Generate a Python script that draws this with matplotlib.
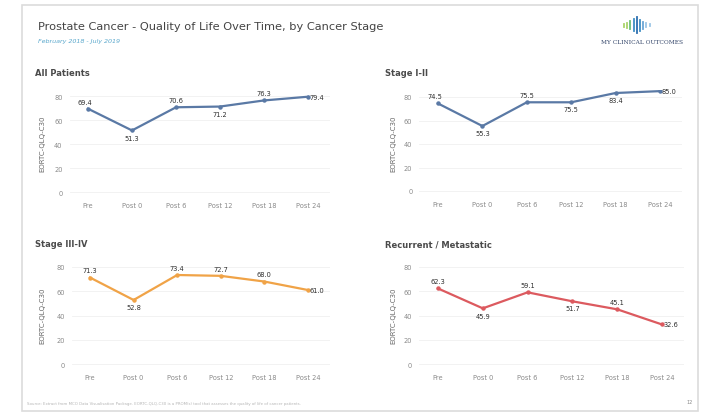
import matplotlib.pyplot as plt
from matplotlib.patches import Rectangle

W, H = 707, 414

timepoints = ['Pre', 'Post 0', 'Post 6', 'Post 12', 'Post 18', 'Post 24']

all_patients = [69.4, 51.3, 70.6, 71.2, 76.3, 79.4]
stage_1_2 = [74.5, 55.3, 75.5, 75.5, 83.4, 85.0]
stage_3_4 = [71.3, 52.8, 73.4, 72.7, 68.0, 61.0]
recurrent = [62.3, 45.9, 59.1, 51.7, 45.1, 32.6]

# label placement for each point: 'a' above, 'al' above-left, 'b' below, 'r' right
pos_all = ['al', 'b', 'a', 'b', 'a', 'r']
pos_12 = ['al', 'b', 'a', 'b', 'b', 'r']
pos_34 = ['a', 'b', 'a', 'a', 'a', 'r']
pos_rec = ['a', 'b', 'a', 'b', 'a', 'r']

yticks = [0, 20, 40, 60, 80]

fig = plt.figure(figsize=(W / 100, H / 100), dpi=100)
fig.patch.set_facecolor('white')


def px(x, y):
    return x / W, 1 - y / H


def make_axes(x_pre, x_last, y0, y80):
    # layout from pixel positions of first/last category and of 0/80 ticks
    step = (x_last - x_pre) / 5
    unit = (y0 - y80) / 80
    left = x_pre - 0.42 * step
    right = x_last + 0.5 * step
    bottom = y0 + 4 * unit
    top = y80 - 6 * unit
    ax = fig.add_axes([left / W, 1 - bottom / H, (right - left) / W, (bottom - top) / H])
    ax.set_xlim(-0.42, 5.5)
    ax.set_ylim(-4, 86)
    return ax


def draw_panel(ax, values, positions, color, title, title_xy, ylab_x):
    x = range(len(values))
    ax.plot(x, values, color=color, lw=1.6, marker='o', ms=2.2, zorder=3)
    offsets = {'r': ((1, 0), 'left', 'center'),
               'b': ((0, -3), 'center', 'top'),
               'al': ((-2, 3), 'center', 'bottom'),
               'a': ((0, 3), 'center', 'bottom')}
    for i, (v, p) in enumerate(zip(values, positions)):
        off, ha, va = offsets[p]
        ax.annotate(f'{v:.1f}', (i, v), xytext=off, textcoords='offset points',
                    ha=ha, va=va, fontsize=4.8, color='#2e2e2e')
    ax.set_yticks(yticks)
    ax.set_xticks(list(x))
    ax.set_xticklabels(timepoints)
    ax.tick_params(length=0, labelsize=4.8, labelcolor='#8a8a8a', pad=5)
    ax.tick_params(axis='x', pad=4)
    ax.grid(axis='y', color='#f0f0f0', lw=0.6)
    ax.set_axisbelow(True)
    for s in ax.spines.values():
        s.set_visible(False)
    fig.text(*px(*title_xy), title, fontsize=6, fontweight='semibold', color='#4a4a4a',
             ha='left', va='center')
    fig.text(ylab_x / W, ax.get_position().y0 + ax.get_position().height / 2,
             'EORTC-QLQ-C30', rotation=90, fontsize=5, color='#666666',
             ha='center', va='center')


ax1 = make_axes(88, 308, 193, 97)
draw_panel(ax1, all_patients, pos_all, '#5a79a5', 'All Patients', (35, 73), 42)

ax2 = make_axes(438, 660, 192, 98)
draw_panel(ax2, stage_1_2, pos_12, '#5a79a5', 'Stage I-II', (385, 73), 393)

ax3 = make_axes(90, 308, 365, 268)
draw_panel(ax3, stage_3_4, pos_34, '#f0a347', 'Stage III-IV', (35, 245), 42)

ax4 = make_axes(438, 662, 365, 268)
draw_panel(ax4, recurrent, pos_rec, '#dc5a5f', 'Recurrent / Metastatic', (385, 245), 393)

# slide frame
fig.patches.append(Rectangle(px(22, 412), 676 / W, 406 / H, transform=fig.transFigure,
                             fill=False, edgecolor='#dcdcdc', lw=1.2))

# header
fig.text(*px(38, 27), 'Prostate Cancer - Quality of Life Over Time, by Cancer Stage',
         fontsize=8.2, color='#444444', ha='left', va='center')
fig.text(*px(38, 42), 'February 2018 - July 2019', fontsize=4.6, style='italic',
         color='#5aa8cc', ha='left', va='center')

# logo
bar_h = [3, 5, 8, 12, 16, 11, 7, 4, 2]
bar_c = ['#a9d36a', '#a9d36a', '#6cbf7a', '#3f8fc4', '#2d6fb0', '#3f8fc4',
         '#6aa6d6', '#9cc6e6', '#9cc6e6']
for i, (h, c) in enumerate(zip(bar_h, bar_c)):
    x0, ym = 624 + i * 3.2, 26
    fig.add_artist(plt.Line2D([x0 / W, x0 / W], [1 - (ym + h / 2) / H, 1 - (ym - h / 2) / H],
                              transform=fig.transFigure, color=c, lw=1.3))
fig.text(*px(642, 42), 'MY CLINICAL OUTCOMES', fontsize=4.2, color='#34466a',
         ha='center', va='center', family='DejaVu Serif')

# footer
fig.text(*px(27, 404), 'Source: Extract from MCO Data Visualisation Package. EORTC-QLQ-C30 is a PROM(s) '
         'tool that assesses the quality of life of cancer patients.',
         fontsize=2.8, color='#b5b5b5', ha='left', va='center')
fig.text(*px(690, 403), '12', fontsize=3.6, color='#888888', ha='center', va='center')

fig.savefig('out.png', dpi=100, facecolor='white')
